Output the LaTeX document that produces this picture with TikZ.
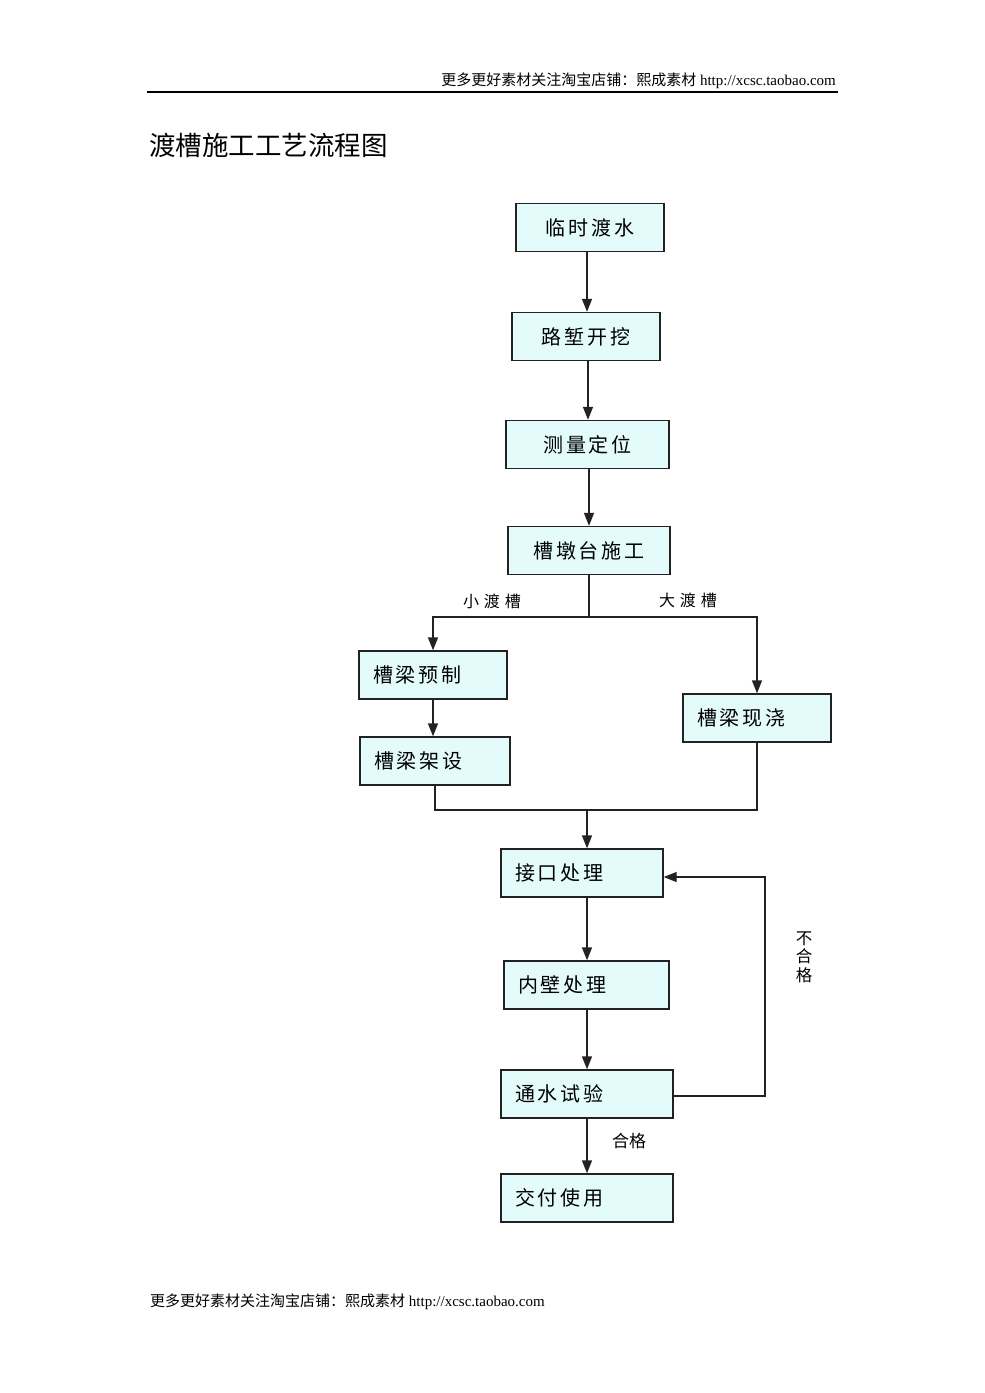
\documentclass[tikz,border=0pt]{standalone}
\usepackage{fontspec}
\usetikzlibrary{arrows.meta}
\newfontfamily\cjk{Noto Sans CJK SC}
\newfontfamily\boxfont[LetterSpace=14]{Noto Sans CJK SC}
\newfontfamily\lblfont[LetterSpace=30]{Noto Sans CJK SC}
\setmainfont{Liberation Serif}
\definecolor{boxfill}{HTML}{E4FBFC}
\definecolor{lineclr}{HTML}{222222}
\tikzset{
  stepbox/.style={draw=lineclr, line width=1.4pt, fill=boxfill, minimum height=48pt, inner sep=0pt, font=\boxfont\fontsize{20}{20}\selectfont},
  leftbox/.style={stepbox, align=left, text width=#1-28pt, minimum width=#1, inner xsep=14pt},
  cbox/.style={stepbox, minimum width=#1},
  conn/.style={draw=lineclr, line width=1.4pt},
  arr/.style={conn, -{Triangle[width=10pt,length=13pt]}},
  lbl/.style={font=\lblfont\fontsize{16}{16}\selectfont, inner sep=0pt}
}
\begin{document}
\begin{tikzpicture}[x=1pt,y=-1pt]
\useasboundingbox (0,0) rectangle (985,1393);
% header
\node[anchor=east, inner sep=0pt, font=\fontsize{15}{15}\selectfont] (hdr) at (836,81) {{\cjk 更多更好素材关注淘宝店铺：熙成素材}\ http://xcsc.taobao.com};
\draw[line width=1.6pt, black] (147,92) coordinate (hl) -- (838,92) coordinate (hr);
% title
\node[anchor=west, inner sep=0pt, font=\cjk\fontsize{26.5}{27}\selectfont] (title) at (149,145) {渡槽施工工艺流程图};
% boxes
\node[cbox=148pt] (b1) at (590,227.5) {临时渡水};
\node[cbox=148pt] (b2) at (586,336.5) {路堑开挖};
\node[cbox=163pt] (b3) at (587.5,444.5) {测量定位};
\node[cbox=162pt] (b4) at (589,550.5) {槽墩台施工};
\node[leftbox=148pt] (b5) at (433,675) {槽梁预制};
\node[leftbox=150pt] (b6) at (435,761) {槽梁架设};
\node[leftbox=148pt] (b7) at (757,718) {槽梁现浇};
\node[leftbox=162pt] (b8) at (582,873) {接口处理};
\node[leftbox=165pt] (b9) at (586.5,985) {内壁处理};
\node[leftbox=172pt] (b10) at (587,1094) {通水试验};
\node[leftbox=172pt] (b11) at (587,1198) {交付使用};
% connectors
\draw[arr] (b1.south -| 587,0) -- (587,0 |- b2.north);
\draw[arr] (b2.south -| 588,0) -- (588,0 |- b3.north);
\draw[arr] (b3.south -| 589,0) -- (589,0 |- b4.north);
\coordinate (split) at (589,617);
\draw[conn] (b4.south) -- (split);
\draw[arr] (split) -| (b5.north);
\draw[arr] (split) -| (b7.north);
\draw[arr] (b5.south) -- (b5.south |- b6.north);
\coordinate (merge) at (587,810);
\draw[conn] (b6.south) |- (merge);
\draw[conn] (b7.south) |- (merge);
\draw[arr] (merge) -- (merge |- b8.north);
\draw[arr] (b8.south -| 587,0) -- (587,0 |- b9.north);
\draw[arr] (b9.south -| 587,0) -- (587,0 |- b10.north);
\draw[arr] (b10.south) -- (b11.north);
\coordinate (fb) at (765,1096);
\draw[arr] (b10.east |- fb) -- (fb) |- (b8.east |- 0,877);
% labels
\node[lbl] (l1) at (492,601) {小渡槽};
\node[lbl] (l2) at (688,600) {大渡槽};
\node[font=\cjk\fontsize{17}{17}\selectfont, inner sep=0pt] (l3) at (629,1141) {合格};
\node[font=\cjk\fontsize{16.5}{18.5}\selectfont, inner sep=0pt, align=center] (l4) at (804,957) {不\\合\\格};
% footer
\node[anchor=west, inner sep=0pt, font=\fontsize{15}{15}\selectfont] (ftr) at (150,1302) {{\cjk 更多更好素材关注淘宝店铺：熙成素材}\ http://xcsc.taobao.com};
\end{tikzpicture}
\end{document}
